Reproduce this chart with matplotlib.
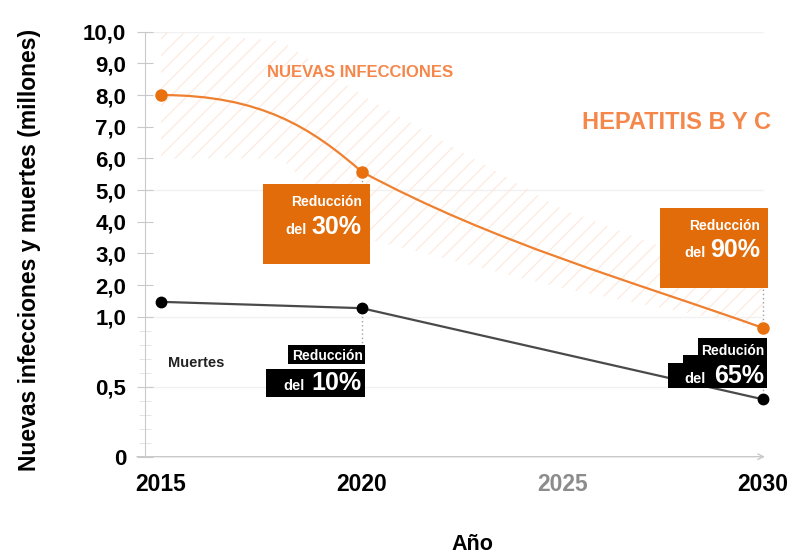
import numpy as np
import matplotlib
matplotlib.use("Agg")
import matplotlib.pyplot as plt
import matplotlib.transforms as mtransforms
from matplotlib.path import Path
from matplotlib.patches import PathPatch, Rectangle

plt.rcParams['font.family'] = ['Liberation Sans', 'DejaVu Sans']
plt.rcParams['font.weight'] = 'bold'
plt.rcParams['hatch.linewidth'] = 0.9

# data
years = [2015, 2020, 2030]
new_infections = [8.0, 5.58, 0.92]
deaths = [1.47, 1.27, 0.41]
# slopes (millones/año) used to smooth the infections line
slope_out = [0.0, -0.68]
slope_in = [-1.1, -0.37]

band_years = [2015, 2018, 2020, 2025, 2030]
band_upper = [10.0, 9.7, 8.0, 4.4, 2.0]
band_lower = [6.0, 6.0, 3.5, 1.9, 0.92]

x_ticks = [2015, 2020, 2025, 2030]
x_labels = ['2015', '2020', '2025', '2030']
y_ticks = [0, 0.5, 1, 2, 3, 4, 5, 6, 7, 8, 9, 10]
y_labels = ['0', '0,5', '1,0', '2,0', '3,0', '4,0', '5,0', '6,0', '7,0', '8,0', '9,0', '10,0']
grid_values = [0.5, 1, 5, 10]

ORANGE = '#ee8030'
ORANGE_DOT = '#e8700e'
ORANGE_BOX = '#e36c0a'
TITLE_ORANGE = '#f5874a'
GREY = '#c9c9c9'

K = 4.42  # stretch of the 0-1 range


def fwd(v):
    v = np.asarray(v, dtype=float)
    return np.where(v <= 1, v * K, K + (v - 1))


def inv(t):
    t = np.asarray(t, dtype=float)
    return np.where(t <= K, t / K, t - K + 1)


fig = plt.figure(figsize=(7.95, 5.54), dpi=100)
ax = fig.add_axes([145 / 795, (554 - 456.7) / 554, 650 / 795, 425 / 554])
ax.set_xlim(2014.6, 2030.8)
ax.set_yscale('function', functions=(fwd, inv))
ax.set_ylim(0, 10)

for s in ['top', 'right', 'bottom']:
    ax.spines[s].set_visible(False)
ax.spines['left'].set_color(GREY)
ax.spines['left'].set_bounds(0, 10)

ax.set_yticks(y_ticks)
ax.set_yticklabels(y_labels)
ax.set_yticks(np.arange(1, 10) / 10, minor=True)
ax.tick_params(axis='y', which='major', direction='inout', length=11, color=GREY,
               labelsize=16, pad=8)
ax.tick_params(axis='y', which='minor', direction='inout', length=9, color='#e2e2e2')

ax.set_xticks(x_ticks)
ax.set_xticklabels(x_labels)
ax.set_xticks([2020, 2025], minor=True)
ax.tick_params(axis='x', which='major', length=0, labelsize=16.5, pad=12)
ax.tick_params(axis='x', which='minor', direction='inout', length=10, color=GREY)
ax.get_xticklabels()[2].set_color('#8c8c8c')

ax.annotate('', xy=(2030.05, 0), xytext=(2014.4, 0), annotation_clip=False,
            arrowprops=dict(arrowstyle='->', color=GREY, lw=1, shrinkA=0, shrinkB=0))

ax.hlines(grid_values, 2014.6, 2030.0, color='#f1f1f1', lw=1, zorder=0)

ax.fill_between(band_years, band_lower, band_upper, facecolor='none',
                edgecolor='#fdeadf', hatch='//', linewidth=0, zorder=1)

# smooth infections curve (cubic segments between the data points)
verts = [(years[0], new_infections[0])]
codes = [Path.MOVETO]
for i in range(len(years) - 1):
    h = (years[i + 1] - years[i]) / 3
    if i == 0:
        h = (years[1] - years[0]) / 2
        h2 = (years[1] - years[0]) / 4
    else:
        h2 = h
    verts += [(years[i] + h, new_infections[i] + slope_out[i] * h),
              (years[i + 1] - h2, new_infections[i + 1] - slope_in[i] * h2),
              (years[i + 1], new_infections[i + 1])]
    codes += [Path.CURVE4] * 3
ax.add_patch(PathPatch(Path(verts, codes), facecolor='none', edgecolor=ORANGE,
                       lw=1.6, zorder=3))
ax.plot(years, new_infections, 'o', color=ORANGE_DOT, ms=8, zorder=5)

ax.plot(years, deaths, '-', color='#4a4a4a', lw=1.6, zorder=3)
ax.plot(years, deaths, 'o', color='black', ms=7.5, zorder=5)


def anchor(x, y):
    px, py = ax.transData.transform((x, y))
    return mtransforms.Affine2D().translate(px, py)


def box(x, y, rects, color, lines, guide):
    tr = anchor(x, y)
    ax.plot([0, 0], guide, ls=(0, (1, 2)), color='#a0a0a0', lw=1, transform=tr,
            zorder=4, clip_on=False)
    for (x0, y0, w, h) in rects:
        ax.add_patch(Rectangle((x0, y0), w, h, facecolor=color, edgecolor='none',
                               transform=tr, zorder=6, clip_on=False))
    for (tx, ty, s, size) in lines:
        ax.text(tx, ty, s, color='white', fontsize=size, ha='right', va='baseline',
                transform=tr, zorder=7, clip_on=False)


box(years[1], new_infections[1], [(-98.7, -92.3, 107, 80)], ORANGE_BOX,
    [(0.3, -34.3, 'Reducción', 10), (-54.7, -62.3, 'del', 10.5), (0.3, -62.3, '30%', 18)],
    [0, -12])
box(years[2], new_infections[2], [(-102.7, 40.3, 108, 80)], ORANGE_BOX,
    [(-2.7, 98, 'Reducción', 10), (-57.7, 70.6, 'del', 10.5), (-2.7, 70.6, '90%', 18)],
    [0, 40])
box(years[1], deaths[1], [(-73.7, -55.7, 77, 19), (-95.7, -88.7, 99, 28)], 'black',
    [(1.3, -51.7, 'Reducción', 10), (-56.7, -81.7, 'del', 10.5), (0.3, -81.7, '10%', 18)],
    [0, -37])
box(years[2], deaths[2], [(-64.7, 41.3, 69, 20), (-79.7, 33.3, 84, 11), (-94.7, 11.3, 99, 25)],
    'black',
    [(1.3, 44.3, 'Redución', 10), (-57.7, 16, 'del', 10.5), (1.3, 16, '65%', 18)],
    [0, 11])

ax.text(2015.17, 0.67, 'Muertes', fontsize=10.5, color='#222222', va='center', ha='left')
ax.text(2019.95, 8.7, 'NUEVAS INFECCIONES', fontsize=12, color=TITLE_ORANGE,
        ha='center', va='center')
ax.text(2030.2, 7.12, 'HEPATITIS B Y C', fontsize=17, color=TITLE_ORANGE,
        ha='right', va='center')

ax.set_ylabel('Nuevas infecciones y muertes (millones)', fontsize=16.5, fontweight='bold')
ax.yaxis.set_label_coords(-0.16, 0.486)
ax.set_xlabel('Año', fontsize=15.5, fontweight='bold')
ax.xaxis.set_label_coords(0.503, -0.183)

fig.savefig('out.png', dpi=100)
